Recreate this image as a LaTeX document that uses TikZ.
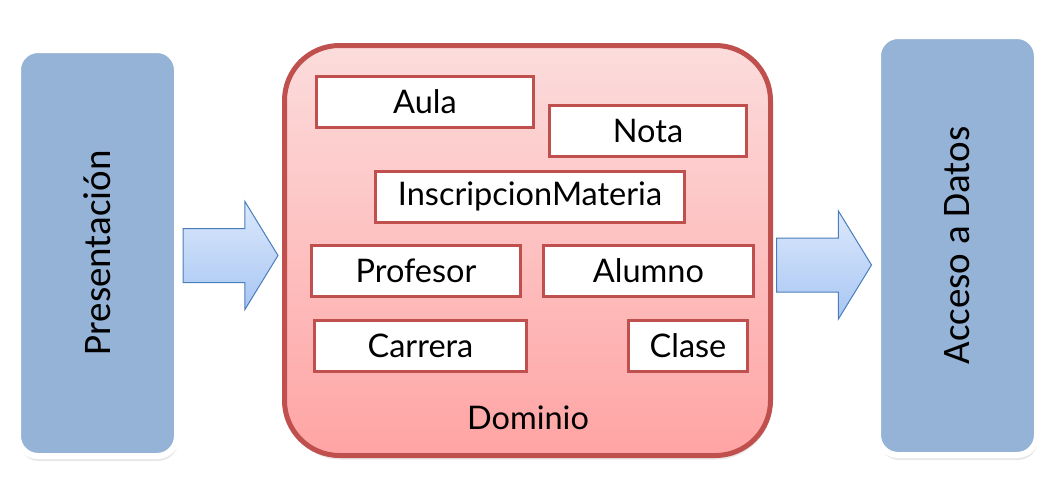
\documentclass[tikz,border=0pt]{standalone}
\usepackage{fontspec}
\setmainfont{Lato}
\newfontfamily\layerfont{Carlito}
\usetikzlibrary{shapes,arrows}
\usetikzlibrary{positioning}
\usetikzlibrary{shadows}
\definecolor{layerblue}{RGB}{149,179,215}
\definecolor{domred}{RGB}{192,80,77}
\definecolor{domtop}{RGB}{252,220,220}
\definecolor{dombot}{RGB}{255,164,164}
\definecolor{flowtop}{RGB}{219,232,252}
\definecolor{flowbot}{RGB}{168,198,243}
\definecolor{flowline}{RGB}{74,126,187}
\tikzset{x=1pt, y=-1pt, font=\fontsize{32.5}{39}\selectfont}
\tikzstyle{layerbox} = [draw=white, fill=layerblue, rectangle, line width=6pt, rounded corners=20pt, minimum width=159pt, font=\layerfont\fontsize{39}{46}\selectfont, drop shadow={shadow xshift=1pt, shadow yshift=-5pt, opacity=0.18}]
\tikzstyle{dombox} = [draw=domred, rectangle, line width=5pt, rounded corners=55pt, top color=domtop, bottom color=dombot, minimum width=486pt, minimum height=410pt, drop shadow={shadow xshift=1pt, shadow yshift=-4pt, opacity=0.18}]
\tikzstyle{classbox} = [draw=domred, fill=white, rectangle, line width=3pt, minimum height=51pt, inner sep=0pt]
\tikzstyle{flowarrow} = [draw=flowline, line width=1pt, single arrow, single arrow head extend=27pt, single arrow tip angle=117, text height=26.5pt, text depth=26.5pt, minimum width=107pt, minimum height=95pt, inner sep=0pt, top color=flowtop, bottom color=flowbot]

\begin{document}
\begin{tikzpicture}
	\useasboundingbox (0,0) rectangle (1055,477);

	% capas
	\node [layerbox, minimum height=406pt] at (97.5,253) (pres) {\rotatebox{90}{Presentación}};
	\node [dombox] at (527.5,250.5) (dom) {};
	\node [layerbox, minimum height=419pt] at (957.5,245.5) (datos) {\rotatebox{90}{Acceso a Datos}};

	% clases del dominio
	\node [classbox, minimum width=217pt] at (425,102) (aula) {Aula};
	\node [classbox, minimum width=197pt] at (648,130.5) (nota) {Nota};
	\node [classbox, minimum width=309pt] at (530,196.5) (insc) {InscripcionMateria};
	\node [classbox, minimum width=209pt] at (416,271) (prof) {Profesor};
	\node [classbox, minimum width=210pt] at (648.5,271) (alum) {Alumno};
	\node [classbox, minimum width=212pt] at (420.5,346) (carr) {Carrera};
	\node [classbox, minimum width=119pt] at (688,346) (clase) {Clase};
	\node at (528,418) (dom_label) {Dominio};

	% flechas
	\node [flowarrow, right=2.5pt of pres, yshift=-2.5pt] (pres2dom) {};
	\node [flowarrow, right=3pt of dom, yshift=-14.5pt] (dom2datos) {};
\end{tikzpicture}
\end{document}
